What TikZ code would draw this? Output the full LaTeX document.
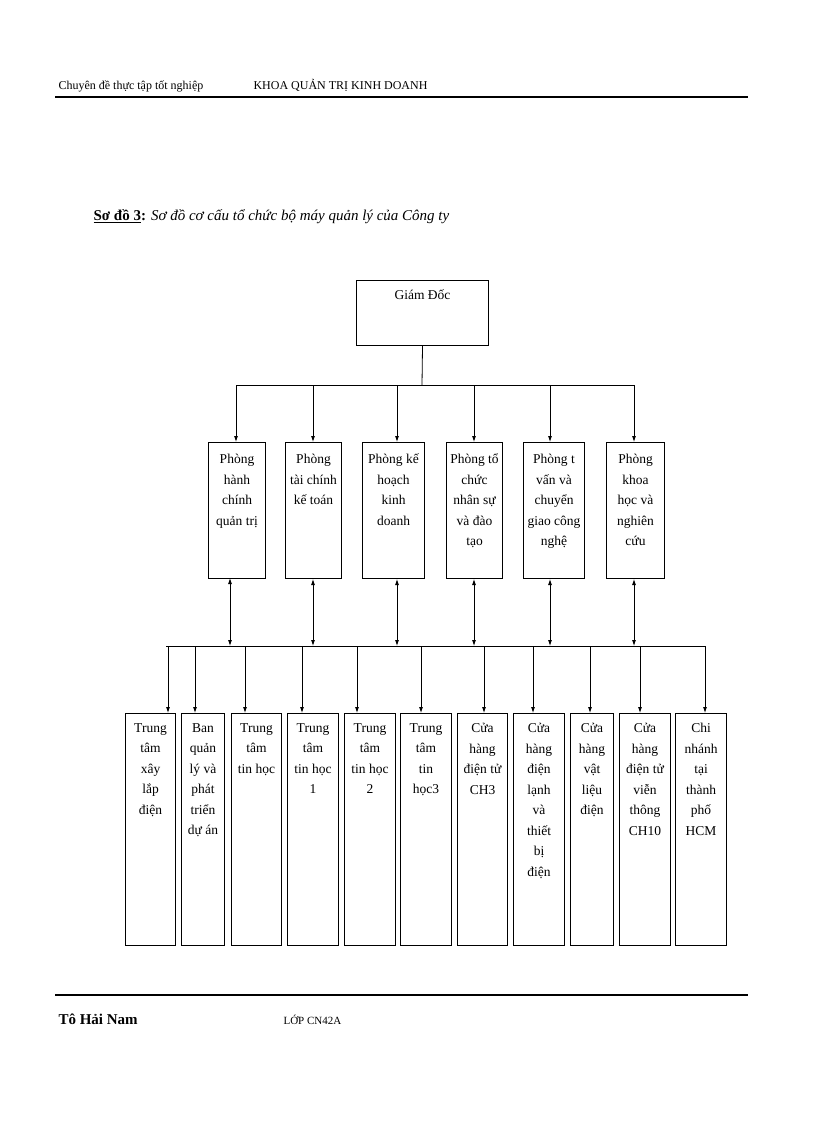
\documentclass[tikz,border=0pt]{standalone}
\usepackage{fontspec}
\setmainfont{Liberation Serif}
\usetikzlibrary{arrows.meta}
\begin{document}
\begin{tikzpicture}[x=1pt,y=-1pt,
  box/.style={draw,line width=1pt,inner sep=0pt,anchor=north west},
  txt/.style={align=center,font=\fontsize{13.5}{20.5}\selectfont,anchor=north,inner sep=0pt},
  arr/.style={-{Latex[length=6pt,width=4pt]},line width=0.8pt},
  darr/.style={{Latex[length=6pt,width=4pt]}-{Latex[length=6pt,width=4pt]},line width=0.8pt},
  ln/.style={line width=0.8pt}]
\useasboundingbox (0,0) rectangle (816,1123);
% header / footer
\node[anchor=base west,font=\fontsize{12}{14}\selectfont] (h1) at (55,90) {Chuyên đề thực tập tốt nghiệp};
\node[anchor=base west,font=\fontsize{12}{14}\selectfont] (h2) at (250,90) {KHOA QUẢN TRỊ KINH DOANH};
\draw[line width=1.2pt] (55,97) -- (748,97);
\node[anchor=base west,font=\fontsize{15}{17}\selectfont] (title) at (90,221) {\textbf{\underline{Sơ đồ 3}:} \textit{Sơ đồ cơ cấu tổ chức bộ máy quản lý của Công ty}};
\draw[line width=1.2pt] (55,995) -- (748,995);
\node[anchor=base west,font=\fontsize{15}{17}\selectfont\bfseries] (f1) at (55,1024) {Tô Hải Nam};
\node[anchor=base west,font=\fontsize{11}{13}\selectfont] (f2) at (280,1024) {LỚP CN42A};
% director
\node[box,minimum width=132,minimum height=65] (gd) at (356,280) {};
\node[txt] at ([yshift=-10]gd.north) {Giám Đốc};
\coordinate (top) at (422,385);
\draw[ln] (gd.south) -- (top);
\draw[ln] (236,385) -- (634,385);
% middle boxes
\foreach \n/\xa/\xb/\ax/\t in {
  1/208/265/236/{Phòng\\hành\\chính\\quản trị},
  2/285/341/313/{Phòng\\tài chính\\kế toán},
  3/362/424/397/{Phòng kế\\hoạch\\kinh\\doanh},
  4/446/502/474/{Phòng tổ\\chức\\nhân sự\\và đào\\tạo},
  5/523/584/550/{Phòng t\\vấn và\\chuyển\\giao công\\nghệ},
  6/606/664/634/{Phòng\\khoa\\học và\\nghiên\\cứu}}{
  \node[box,minimum width=\xb-\xa,minimum height=136] (m\n) at (\xa,442) {};
  \node[txt] at ([yshift=-12]m\n.north) {\t};
  \coordinate (mt\n) at (\ax,385);
  \draw[arr] (mt\n) -- (\ax,442);
}
\coordinate (b1) at (230,646);\draw[darr] (230,578) -- (b1);
\foreach \n/\ax in {2/313,3/397,4/474,5/550,6/634}{
  \coordinate (b\n) at (\ax,646);
  \draw[darr] (m\n.south -| b\n) -- (b\n);
}
\draw[ln] (166,646) -- (705,646);
% bottom boxes
\foreach \n/\xa/\xb/\ax/\t in {
  1/125/175/168/{Trung\\tâm\\xây\\lắp\\điện},
  2/181/224/195/{Ban\\quản\\lý và\\phát\\triển\\dự án},
  3/231/281/245/{Trung\\tâm\\tin học},
  4/287/338/302/{Trung\\tâm\\tin học\\1},
  5/344/395/357/{Trung\\tâm\\tin học\\2},
  6/400/451/421/{Trung\\tâm\\tin\\học3},
  7/457/507/484/{Cửa\\hàng\\điện tử\\CH3},
  8/513/564/533/{Cửa\\hàng\\điện\\lạnh\\và\\thiết\\bị\\điện},
  9/570/613/590/{Cửa\\hàng\\vật\\liệu\\điện},
  10/619/670/640/{Cửa\\hàng\\điện tử\\viễn\\thông\\CH10},
  11/675/726/705/{Chi\\nhánh\\tại\\thành\\phố\\HCM}}{
  \node[box,minimum width=\xb-\xa,minimum height=232] (c\n) at (\xa,713) {};
  \node[txt] at ([yshift=-10]c\n.north) {\t};
  \coordinate (ct\n) at (\ax,646);
  \draw[arr] (ct\n) -- (\ax,713);
}
\end{tikzpicture}
\end{document}
